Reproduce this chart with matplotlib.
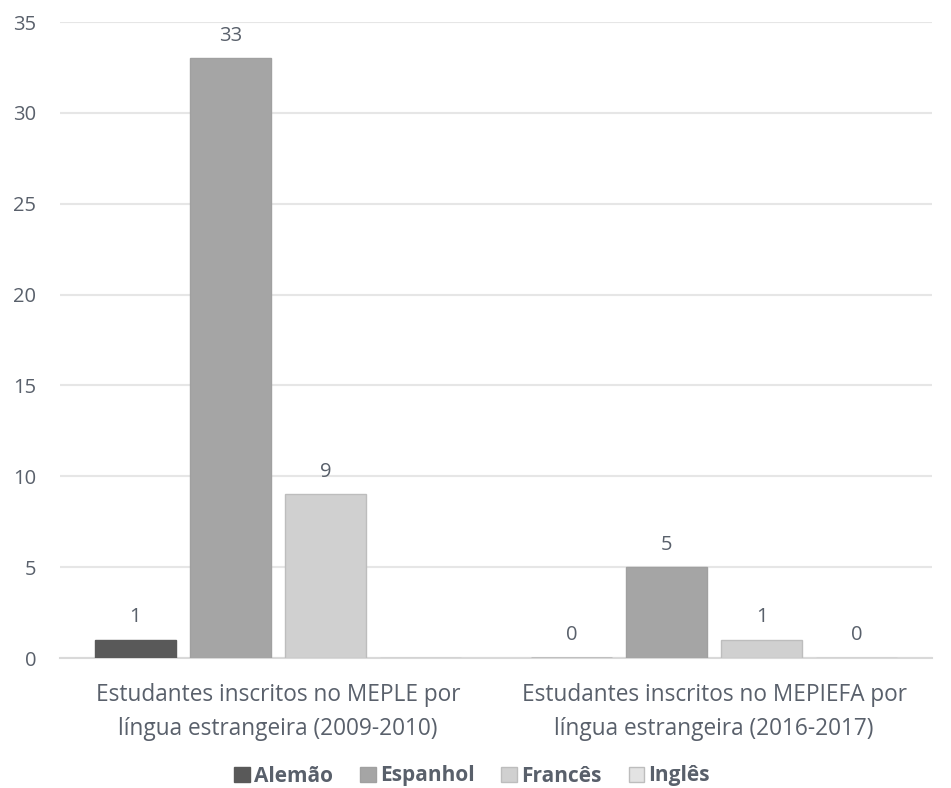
import matplotlib
matplotlib.use("Agg")
import matplotlib.pyplot as plt
import numpy as np

categories = ["Estudantes inscritos no MEPLE por\nlíngua estrangeira (2009-2010)",
              "Estudantes inscritos no MEPIEFA por\nlíngua estrangeira (2016-2017)"]
series = ["Alemão", "Espanhol", "Francês", "Inglês"]
alemao = [1, 0]
espanhol = [33, 5]
frances = [9, 1]
ingles = [0, 0]
labels_ingles = ["", "0"]
yticks = [0, 5, 10, 15, 20, 25, 30, 35]

colors = ["#595959", "#a5a5a5", "#d0d0d0", "#e3e3e3"]
edges = ["#595959", "#a0a0a0", "#bdbdbd", "#bdbdbd"]
txt = "#59606b"

plt.rcParams['font.family'] = ['Open Sans', 'DejaVu Sans']

fig = plt.figure(figsize=(9.51, 7.88), dpi=100)
ax = fig.add_axes([60/951, 1-658/788, 872/951, (658-22)/788])

x = np.arange(len(categories))
slot = 0.218
w = 0.186
data = [alemao, espanhol, frances, ingles]
for i, (name, vals) in enumerate(zip(series, data)):
    pos = x + (i - 1.5) * slot
    bars = ax.bar(pos, vals, width=w, color=colors[i], edgecolor=edges[i],
                  linewidth=1, label=name, zorder=3)
    if name == "Inglês":
        labs = labels_ingles
    else:
        labs = [str(v) for v in vals]
    ax.bar_label(bars, labels=labs, padding=9, fontsize=14.5, color=txt)

ax.set_xlim(-0.5, 1.5)
ax.set_ylim(0, 35)
ax.set_yticks(yticks)
ax.set_xticks(x)
ax.set_xticklabels(categories, fontsize=16.3, color=txt, linespacing=1.55)
ax.tick_params(axis='y', labelsize=14.5, colors=txt, length=0, pad=17)
ax.tick_params(axis='x', length=0, pad=18)
ax.grid(axis='y', color='#e6e6e6', linewidth=1.5, zorder=0)
for s in ['top', 'right', 'left']:
    ax.spines[s].set_visible(False)
ax.spines['bottom'].set_color('#d9d9d9')
ax.spines['bottom'].set_linewidth(1.5)
ax.set_axisbelow(True)

leg = fig.legend(loc='center', bbox_to_anchor=(472/951, 1-776/788), ncol=4,
                 frameon=False, fontsize=15, handlelength=0.75, handleheight=0.75,
                 handletextpad=0.2, columnspacing=1.3)
for t in leg.get_texts():
    t.set_color(txt)
    t.set_fontweight('bold')

fig.savefig("out.png", dpi=100)
